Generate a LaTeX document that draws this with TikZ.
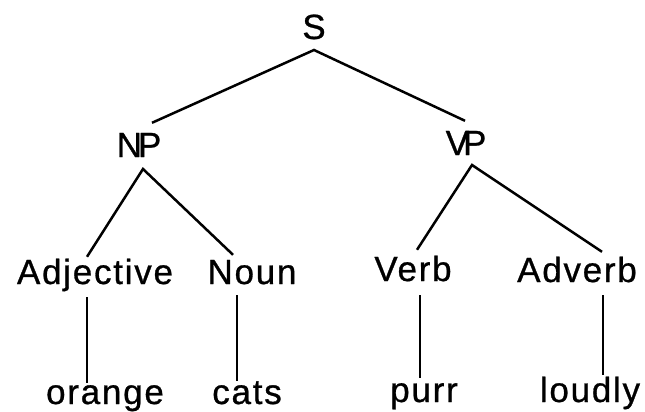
\documentclass[tikz,border=0pt]{standalone}
\usepackage{fontspec}
\newfontfamily\treefont[LetterSpace=5,FakeBold=0.8]{Liberation Sans}
\newfontfamily\phrasefont[FakeBold=0.8]{Liberation Sans}
\begin{document}
\begin{tikzpicture}[x=1pt, y=-1pt,
  cat/.style={font={\treefont\fontsize{35}{40}\selectfont}, inner sep=0pt, anchor=base, text height=25pt, text depth=0pt},
  phrase/.style={cat, font={\phrasefont\fontsize{35}{40}\selectfont}},
  branch/.style={line width=2.5pt, line join=miter}]
\useasboundingbox (0,0) rectangle (645,412);
% sentence and phrases
\node[cat] (S) at (314,39) {S};
\node[phrase] (NP) at (139,157) {N\kern-4ptP};
\node[phrase] (VP) at (466,155) {V\kern-6ptP};
% word classes
\node[cat] (adj) at (95,284) {Adjective};
\node[cat] (noun) at (252,284) {Noun};
\node[cat] (verb) at (413,281) {Verb};
\node[cat] (adv) at (577,282) {Adverb};
% words
\node[cat] (orange) at (105,404) {orange};
\node[cat] (cats) at (247,404) {cats};
\node[cat] (purr) at (424,402) {purr};
\node[cat] (loudly) at (590,402) {loudly};
% branches
\draw[branch] ([xshift=13pt,yshift=9pt]NP.north) -- ([yshift=-11pt]S.base) -- ([xshift=-1pt,yshift=9pt]VP.north);
\draw[branch] ([xshift=-8pt,yshift=2pt]adj.north) -- ([xshift=4pt,yshift=-12pt]NP.base) -- ([xshift=-19pt,yshift=4pt]noun.north);
\draw[branch] ([xshift=4pt,yshift=6pt]verb.north) -- ([xshift=6pt,yshift=-10pt]VP.base) -- ([xshift=25pt,yshift=5pt]adv.north);
\draw[branch] ([xshift=-8pt,yshift=-13pt]adj.base) -- ([xshift=-18pt,yshift=21pt]orange.base);
\draw[branch] ([xshift=-15pt,yshift=-11pt]noun.base) -- ([xshift=-10pt,yshift=23pt]cats.base);
\draw[branch] ([xshift=7pt,yshift=-14pt]verb.base) -- ([xshift=-4pt,yshift=24pt]purr.base);
\draw[branch] ([xshift=26pt,yshift=-13pt]adv.base) -- ([xshift=13pt,yshift=27pt]loudly.base);
\end{tikzpicture}
\end{document}
